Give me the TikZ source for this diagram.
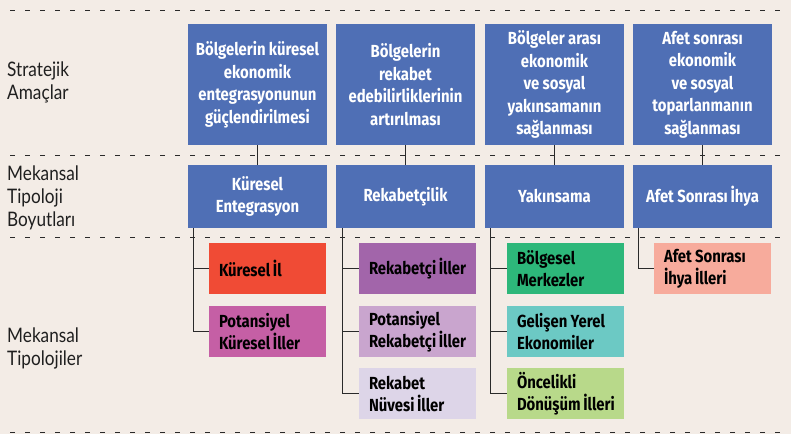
\documentclass[tikz,border=0pt]{standalone}
\usepackage{fontspec}
\setmainfont{Lato}
\newfontfamily\boxfont[FakeStretch=0.85]{Fira Sans}
\newfontfamily\lblfont[FakeStretch=0.86]{Lato}
\newcommand{\tightspace}{\spaceskip=0.19em plus 0.05em minus 0.03em\relax\hyphenpenalty=10000\exhyphenpenalty=10000\relax}
\newcommand{\idsp}{\nobreak\hskip0.15em\relax}
\newcommand{\nbsp}{\nobreak\hskip0.19em\relax}
\definecolor{bg}{HTML}{F3ECE6}
\definecolor{blueb}{HTML}{4F6FB5}
\definecolor{lnc}{HTML}{2A2A2A}
\definecolor{cA}{HTML}{F04B35}
\definecolor{cB}{HTML}{C55FA5}
\definecolor{cC}{HTML}{A265AA}
\definecolor{cD}{HTML}{C9A5CE}
\definecolor{cE}{HTML}{DDD5E8}
\definecolor{cF}{HTML}{2DB77A}
\definecolor{cG}{HTML}{6CC9C4}
\definecolor{cH}{HTML}{B8D98A}
\definecolor{cI}{HTML}{F7AB9C}
\tikzset{
  goal/.style={rectangle, fill=blueb, text=white, minimum width=139pt, minimum height=121pt, inner sep=0pt, align=center, font={\boxfont\fontsize{17.5}{22.5}\selectfont\bfseries\tightspace}},
  dim/.style={rectangle, fill=blueb, text=white, minimum width=139pt, minimum height=63pt, inner sep=0pt, align=center, font={\boxfont\fontsize{17.5}{21.5}\selectfont\bfseries\tightspace}},
  typ/.style={rectangle, text=black, minimum width=117pt, minimum height=51pt, inner xsep=10pt, inner ysep=0pt, text width=97pt, align=left, font={\boxfont\fontsize{17.5}{22}\selectfont\bfseries\tightspace}},
  lbl/.style={anchor=west, align=left, inner sep=0pt, text=black!88, font={\lblfont\fontsize{20}{23}\selectfont}},
  sep/.style={lnc, line width=0.9pt, dash pattern=on 4.5pt off 10.5pt},
  conn/.style={lnc, line width=1.3pt}
}
\begin{document}
\begin{tikzpicture}[x=1pt, y=-1pt]
\fill[bg] (0,0) rectangle (791,434);
\useasboundingbox (0,0) rectangle (791,434);
% separators
\draw[sep] (10,10) -- (786,10);
\draw[sep] (10,155) -- (786,155);
\draw[sep] (10,237) -- (786,237);
\draw[sep] (10,432) -- (786,432);
% left labels
\node[lbl] (l1) at (7,82.5) {Stratejik\\Amaçlar};
\node[lbl] (l2) at (7,198) {Mekansal\\Tipoloji\\Boyutları};
\node[lbl] (l3) at (7,348) {Mekansal\\Tipolojiler};
% goals
\node[goal] (g1) at (257.5,84.5) {Bölgelerin küresel\\ekonomik\\entegrasyonunun\\güçlendirilmesi};
\node[goal] (g2) at (405.5,84.5) {Bölgelerin\\rekabet\\edebilirliklerinin\\artırılması};
\node[goal] (g3) at (554.5,84.5) {Bölgeler arası\\ekonomik\\ve sosyal\\yakınsamanın\\sağlanması};
\node[goal] (g4) at (702.5,84.5) {Afet sonrası\\ekonomik\\ve sosyal\\toparlanmanın\\sağlanması};
% dimensions
\node[dim] (d1) at (257.5,196.5) {Küresel\\Entegrasyon};
\node[dim] (d2) at (405.5,196.5) {Rekabetçilik};
\node[dim] (d3) at (554.5,196.5) {Yakınsama};
\node[dim] (d4) at (702.5,196.5) {Afet Sonrası\idsp İhya};
% typologies
\node[typ, fill=cA] (t11) at (267.5,268.5) {Küresel\idsp İl};
\node[typ, fill=cB] (t12) at (267.5,331.5) {Potansiyel\\Küresel\idsp İller};
\node[typ, fill=cC] (t21) at (417.5,268.5) {Rekabetçi\idsp İller};
\node[typ, fill=cD] (t22) at (417.5,331.5) {Potansiyel\\Rekabetçi\idsp İller};
\node[typ, fill=cE] (t23) at (417.5,393.5) {Rekabet\\Nüvesi\idsp İller};
\node[typ, fill=cF] (t31) at (565.5,268.5) {Bölgesel\\Merkezler};
\node[typ, fill=cG] (t32) at (565.5,331.5) {Gelişen\nbsp Yerel\\Ekonomiler};
\node[typ, fill=cH] (t33) at (565.5,393.5) {Öncelikli\\Dönüşüm\idsp İlleri};
\node[typ, fill=cI] (t41) at (712.5,268.5) {Afet\nbsp Sonrası\\İhya\idsp İlleri};
% connectors goal -> dimension
\draw[conn] (g1.south) -- (d1.north);
\draw[conn] (g2.south) -- (d2.north);
\draw[conn] (g3.south) -- (d3.north);
\draw[conn] (g4.south) -- (d4.north);
% dimension -> typologies
\draw[conn] ([xshift=6pt]d1.south west) |- (t12.west);
\draw[conn] ([xshift=6pt]d1.south west) |- (t11.west);
\draw[conn] ([xshift=7pt]d2.south west) |- (t23.west);
\draw[conn] ([xshift=7pt]d2.south west) |- (t22.west);
\draw[conn] ([xshift=7pt]d2.south west) |- (t21.west);
\draw[conn] ([xshift=6pt]d3.south west) |- (t33.west);
\draw[conn] ([xshift=6pt]d3.south west) |- (t32.west);
\draw[conn] ([xshift=6pt]d3.south west) |- (t31.west);
\draw[conn] ([xshift=6pt]d4.south west) |- (t41.west);
\end{tikzpicture}
\end{document}
